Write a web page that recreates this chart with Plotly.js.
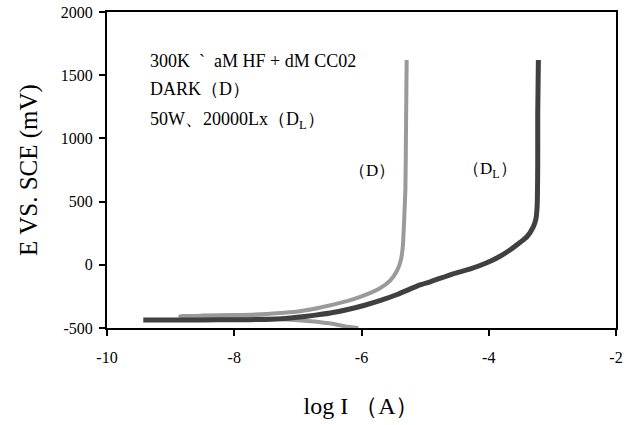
<!DOCTYPE html>
<html>
<head>
<meta charset="utf-8">
<script src="https://cdn.plot.ly/plotly-3.0.1.min.js"></script>
<style>html,body{margin:0;padding:0;background:#fff;}#chart{width:639px;height:425px;}</style>
</head>
<body>
<div id="chart"></div>
<script>
// Curve D (dark condition): cathodic branch then anodic branch
const dLogI = [-6.05, -6.25, -6.5, -6.8, -7.1, -7.5, -8.0, -8.5, -8.85,
               -8.5, -8.0, -7.5, -7.28, -7.0, -6.76, -6.5, -6.23, -6.0, -5.71, -5.55, -5.44, -5.38, -5.35, -5.33, -5.31, -5.30, -5.29];
const dE    = [-500, -488, -463, -446, -435, -425, -417, -410, -406,
               -402, -398, -390, -381, -370, -350, -322, -288, -250, -185, -125, -45, 40, 150, 350, 600, 1100, 1620];

// Curve DL (illuminated 50W, 20000Lx)
const dlLogI = [-9.43, -9.0, -8.5, -8.0, -7.5, -7.2, -6.97, -6.75, -6.49, -6.2, -5.95, -5.7, -5.44, -5.08, -4.92, -4.56, -4.3, -4.03, -3.85, -3.66, -3.5, -3.40, -3.30, -3.26, -3.24, -3.23, -3.23, -3.22];
const dlE    = [-437, -437, -436, -435, -432, -425, -413, -400, -382, -352, -320, -282, -235, -159, -135, -71, -35, 16, 60, 119, 180, 222, 300, 360, 460, 800, 1200, 1620];

const xTicks = [-10, -8, -6, -4, -2];
const xTickText = ["-10", "-8", "-6", "-4", "-2"];
const yTicks = [-500, 0, 500, 1000, 1500, 2000];
const yTickText = ["-500", "0", "500", "1000", "1500", "2000"];

const serif = "Liberation Serif, Times New Roman, serif";

const traces = [
  {x: dLogI, y: dE, type: 'scatter', mode: 'lines', line: {color: '#9a9a9a', width: 4, shape: 'spline', smoothing: 0.5}, hoverinfo: 'skip'},
  {x: dlLogI, y: dlE, type: 'scatter', mode: 'lines', line: {color: '#404040', width: 5, shape: 'spline', smoothing: 0.5}, hoverinfo: 'skip'}
];

const layout = {
  width: 639, height: 425,
  margin: {l: 107, r: 23, t: 12, b: 97},
  paper_bgcolor: '#fff', plot_bgcolor: '#fff',
  showlegend: false,
  font: {family: serif, color: '#000', size: 15},
  xaxis: {
    range: [-10, -2], tickvals: xTicks, ticktext: xTickText,
    showgrid: false, zeroline: false,
    showline: true, linecolor: '#000', linewidth: 2, mirror: true,
    ticks: 'outside', ticklen: 6, tickwidth: 2, tickcolor: '#000',
    ticklabelstandoff: 8,
    tickfont: {family: serif, size: 16, color: '#000'},
    title: {text: 'log I （A）', font: {family: serif, size: 24, color: '#000'}, standoff: 32}
  },
  yaxis: {
    range: [-500, 2000], tickvals: yTicks, ticktext: yTickText,
    showgrid: false, zeroline: false,
    showline: true, linecolor: '#000', linewidth: 2, mirror: true,
    ticks: 'outside', ticklen: 6, tickwidth: 2, tickcolor: '#000',
    ticklabelstandoff: 3,
    tickfont: {family: serif, size: 16, color: '#000'},
    title: {text: 'E VS. SCE (mV)', font: {family: serif, size: 25, color: '#000'}, standoff: 16}
  },
  annotations: [
    {xref: 'paper', yref: 'paper', x: 0.08, y: 0.845, xanchor: 'left', yanchor: 'middle', showarrow: false,
     text: '300K  `  aM HF + dM CC02', font: {family: serif, size: 18, color: '#000'}},
    {xref: 'paper', yref: 'paper', x: 0.08, y: 0.756, xanchor: 'left', yanchor: 'middle', showarrow: false,
     text: 'DARK（D）', font: {family: serif, size: 18, color: '#000'}},
    {xref: 'paper', yref: 'paper', x: 0.08, y: 0.658, xanchor: 'left', yanchor: 'middle', showarrow: false,
     text: '50W、20000Lx（D<sub>L</sub>）', font: {family: serif, size: 18, color: '#000'}},
    {xref: 'paper', yref: 'paper', x: 0.52, y: 0.5, xanchor: 'center', yanchor: 'middle', showarrow: false,
     text: '（D）', font: {family: serif, size: 17, color: '#000'}},
    {xref: 'paper', yref: 'paper', x: 0.752, y: 0.5, xanchor: 'center', yanchor: 'middle', showarrow: false,
     text: '（D<sub>L</sub>）', font: {family: serif, size: 17, color: '#000'}}
  ]
};

Plotly.newPlot('chart', traces, layout, {displayModeBar: false, staticPlot: true});
</script>
</body>
</html>
